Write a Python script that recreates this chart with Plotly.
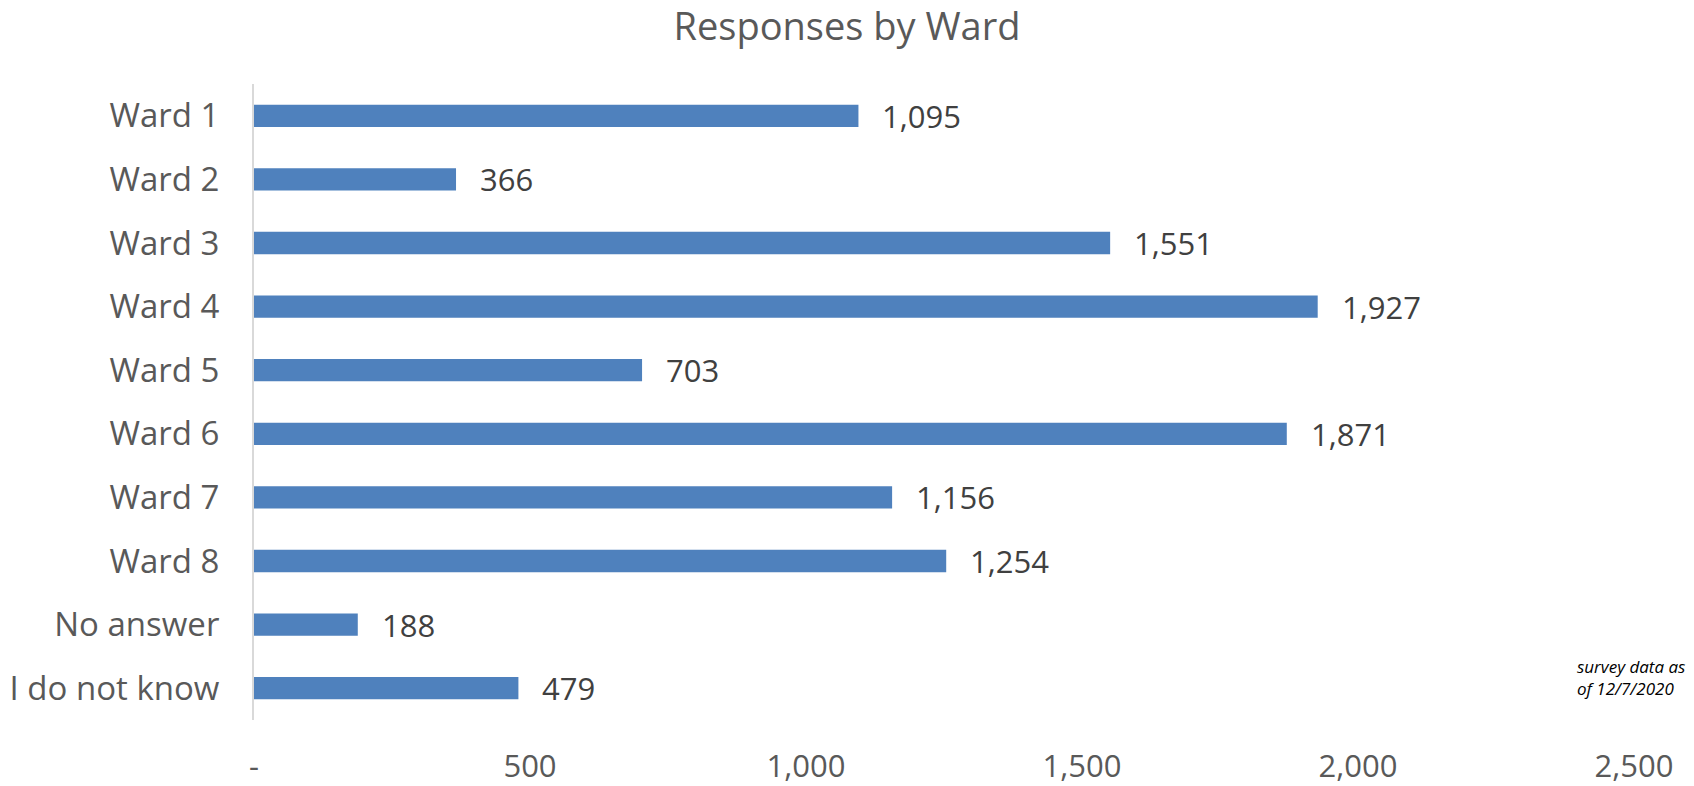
import plotly.graph_objects as go

categories = ["Ward 1", "Ward 2", "Ward 3", "Ward 4", "Ward 5", "Ward 6",
              "Ward 7", "Ward 8", "No answer", "I do not know"]
responses = [1095, 366, 1551, 1927, 703, 1871, 1156, 1254, 188, 479]
tick_vals = [0, 500, 1000, 1500, 2000, 2500]
tick_text = ["-", "500", "1,000", "1,500", "2,000", "2,500"]

FONT = "Open Sans"
GREY = "#595959"

fig = go.Figure()
fig.add_trace(go.Bar(
    x=responses, y=categories, orientation="h",
    marker=dict(color="#4F81BD", line=dict(width=0)),
    width=0.35,
))

for c, v in zip(categories, responses):
    fig.add_annotation(x=v, y=c, text=f"{v:,}", showarrow=False,
                       xanchor="left", yanchor="middle", xshift=22,
                       font=dict(family=FONT, size=31, color="#404040"))

fig.add_annotation(x=1, y=0, xref="paper", yref="paper",
                   text="<i>survey data as<br>of 12/7/2020</i>",
                   showarrow=False, xanchor="right", yanchor="middle",
                   align="left", xshift=53, yshift=43,
                   font=dict(family=FONT, size=17, color="#000000"))

fig.update_layout(
    width=1694, height=786,
    paper_bgcolor="white", plot_bgcolor="white",
    margin=dict(l=254, r=60, t=84, b=66),
    showlegend=False,
    title=dict(text="Responses by Ward", x=0.5, xanchor="center",
               y=0.966, yanchor="middle",
               font=dict(family=FONT, size=38, color=GREY)),
    xaxis=dict(range=[0, 2500], tickvals=tick_vals, ticktext=tick_text,
               showgrid=False, zeroline=False, showline=False,
               ticks="", ticklabelstandoff=25, automargin=False,
               tickfont=dict(family=FONT, size=31, color=GREY)),
    yaxis=dict(autorange="reversed", showgrid=False, zeroline=False,
               showline=True, linecolor="#D9D9D9", linewidth=2,
               ticks="", ticklabelstandoff=26, automargin=False,
               tickfont=dict(family=FONT, size=33, color=GREY)),
)

fig.write_html("out.html", config={"displayModeBar": False},
               post_script="document.body.style.margin='0px';")
